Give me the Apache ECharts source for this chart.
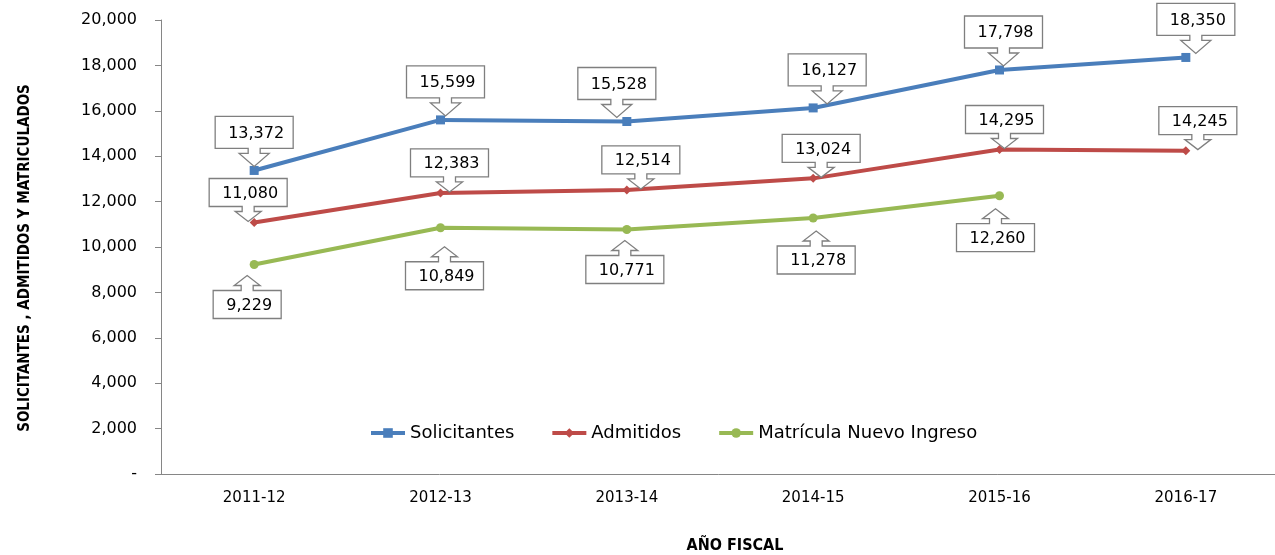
<!DOCTYPE html>
<html>
<head>
<meta charset="utf-8">
<script src="https://cdn.jsdelivr.net/npm/echarts@6/dist/echarts.min.js"></script>
<style>
html, body { margin: 0; padding: 0; background: #fff; }
#chart { width: 1275px; height: 555px; }
</style>
</head>
<body>
<div id="chart"></div>
<script>
const years = ['2011-12', '2012-13', '2013-14', '2014-15', '2015-16', '2016-17']
const solicitantes = [13372, 15599, 15528, 16127, 17798, 18350]
const admitidos = [11080, 12383, 12514, 13024, 14295, 14245]
const matricula = [9229, 10849, 10771, 11278, 12260, null]

// desplazamiento horizontal de cada recuadro (px) y separación con el punto
const solDx = [0, 5, -10, 14, 4, 10]
const admDx = [-6, 9, 14, 8, 5, 12]
const matDx = [-7, 4, -2, 3, -4, 0]
const matGap = [11, 19, 11, 13, 13, 0]

const FONT = '"DejaVu Sans", sans-serif'
const NARROW = '"DejaVu Sans Condensed", "Liberation Sans Narrow", "DejaVu Sans", sans-serif'
const fmt = (v) => Number(v).toLocaleString('en-US')

// medir texto para ajustar el ancho del recuadro
const ctx = document.createElement('canvas').getContext('2d')
const calloutFont = '16px ' + FONT
function textW(t) {
  ctx.font = calloutFont
  return ctx.measureText(t).width
}

// recuadro con flecha (estilo Excel), dir: 'down' = encima del punto, 'up' = debajo
function callout(name, values, opt) {
  const { dir, dx, gap, h, stemH, headH, headW } = opt
  const stemW = 6
  return {
    name: name + ' etiqueta',
    type: 'custom',
    silent: true,
    z: 5,
    data: values.map((v, i) => [i, v]).filter(d => d[1] != null),
    renderItem(params, api) {
      const i = api.value(0)
      const pt = api.coord([i, api.value(1)])
      const text = fmt(api.value(1))
      const w = Math.round(textW(text) + 22)
      const cx = pt[0] + dx[i]
      const g = Array.isArray(gap) ? gap[i] : gap
      let pts, y0, y1
      if (dir === 'down') {
        const tip = pt[1] - g
        y1 = tip - headH - stemH
        y0 = y1 - h
        pts = [
          [cx - w / 2, y0], [cx + w / 2, y0], [cx + w / 2, y1],
          [cx + stemW, y1], [cx + stemW, y1 + stemH], [cx + headW, y1 + stemH],
          [cx, tip],
          [cx - headW, y1 + stemH], [cx - stemW, y1 + stemH], [cx - stemW, y1],
          [cx - w / 2, y1],
        ]
      } else {
        const tip = pt[1] + g
        y0 = tip + headH + stemH
        y1 = y0 + h
        pts = [
          [cx - w / 2, y1], [cx + w / 2, y1], [cx + w / 2, y0],
          [cx + stemW, y0], [cx + stemW, y0 - stemH], [cx + headW, y0 - stemH],
          [cx, tip],
          [cx - headW, y0 - stemH], [cx - stemW, y0 - stemH], [cx - stemW, y0],
          [cx - w / 2, y0],
        ]
      }
      return {
        type: 'group',
        children: [
          { type: 'polygon', shape: { points: pts }, style: { fill: '#fff', stroke: '#7f7f7f', lineWidth: 1.3 } },
          {
            type: 'text',
            style: {
              text, x: cx + 2, y: (y0 + y1) / 2 + 1,
              align: 'center', verticalAlign: 'middle',
              font: calloutFont, fill: '#000',
            },
          },
        ],
      }
    },
  }
}

const chart = echarts.init(document.getElementById('chart'))

chart.setOption({
  animation: false,
  grid: { left: 161, top: 20, width: 1118, height: 454, outerBoundsMode: 'none', containLabel: false },
  legend: {
    data: ['Solicitantes', 'Admitidos', 'Matrícula Nuevo Ingreso'],
    left: 364, top: 419,
    itemWidth: 34, itemHeight: 12, itemGap: 36,
    lineStyle: { width: 4 },
    textStyle: { fontFamily: FONT, fontSize: 18, color: '#000' },
  },
  xAxis: {
    type: 'category',
    data: years,
    name: 'AÑO FISCAL',
    nameLocation: 'middle',
    nameGap: 64,
    nameTextStyle: { fontFamily: NARROW, fontWeight: 'bold', fontSize: 16, color: '#000', padding: [0, 0, 0, 30] },
    axisLine: { lineStyle: { color: '#868686', width: 1 } },
    axisTick: { length: 6, lineStyle: { color: '#868686' } },
    axisLabel: { fontFamily: FONT, fontSize: 15, color: '#000', margin: 17 },
  },
  yAxis: {
    type: 'value',
    min: 0, max: 20000, interval: 2000,
    name: 'SOLICITANTES , ADMITIDOS Y MATRICULADOS',
    nameLocation: 'middle',
    nameRotate: 90,
    nameGap: 128,
    nameTextStyle: { fontFamily: NARROW, fontWeight: 'bold', fontSize: 15, color: '#000', padding: [0, 22, 0, 0] },
    splitLine: { show: false },
    axisLine: { show: true, lineStyle: { color: '#868686', width: 1 } },
    axisTick: { show: true, length: 6, lineStyle: { color: '#868686' } },
    axisLabel: {
      fontFamily: FONT, fontSize: 16, color: '#000', margin: 24,
      formatter: (v) => v === 0 ? '-' : fmt(v),
    },
  },
  series: [
    {
      name: 'Solicitantes', type: 'line', data: solicitantes,
      symbol: 'rect', symbolSize: 9,
      lineStyle: { color: '#4a7ebb', width: 4 },
      itemStyle: { color: '#4a7ebb' },
    },
    {
      name: 'Admitidos', type: 'line', data: admitidos,
      symbol: 'diamond', symbolSize: 9,
      lineStyle: { color: '#be4b48', width: 4 },
      itemStyle: { color: '#be4b48' },
    },
    {
      name: 'Matrícula Nuevo Ingreso', type: 'line', data: matricula,
      symbol: 'circle', symbolSize: 9,
      lineStyle: { color: '#98b954', width: 4 },
      itemStyle: { color: '#98b954' },
    },
    callout('Solicitantes', solicitantes, { dir: 'down', dx: solDx, gap: 4, h: 32, stemH: 5, headH: 13, headW: 15 }),
    callout('Admitidos', admitidos, { dir: 'down', dx: admDx, gap: 1, h: 28, stemH: 5, headH: 10, headW: 13 }),
    callout('Matrícula', matricula, { dir: 'up', dx: matDx, gap: matGap, h: 28, stemH: 5, headH: 10, headW: 13 }),
  ],
})
</script>
</body>
</html>
